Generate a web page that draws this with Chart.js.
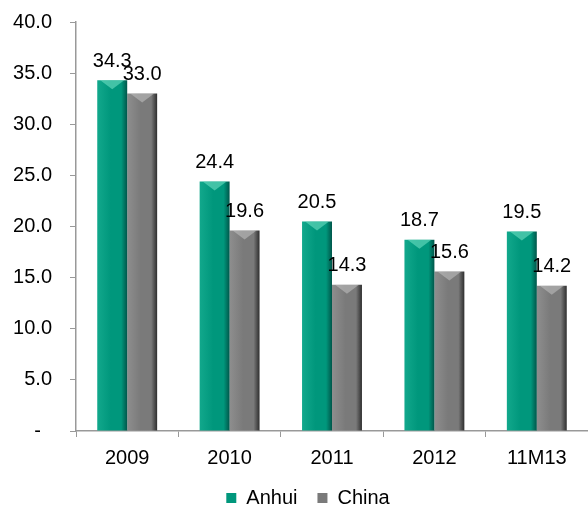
<!DOCTYPE html>
<html>
<head>
<meta charset="utf-8">
<script src="https://cdn.jsdelivr.net/npm/chart.js@4"></script>
<style>
    html, body { margin: 0; padding: 0; background: #fff; }
    #wrap { width: 588px; height: 513px; }
</style>
</head>
<body>
<div id="wrap"><canvas id="chart"></canvas></div>
<script>
// Chart values
const categories = ['2009', '2010', '2011', '2012', '11M13'];
const anhui = [34.3, 24.4, 20.5, 18.7, 19.5];
const china = [33.0, 19.6, 14.3, 15.6, 14.2];
const yTicks = [0, 5, 10, 15, 20, 25, 30, 35, 40];

const FONT = '"Liberation Sans", Arial, sans-serif';

// bar shading: [left light, middle, right dark, bevel]
const shades = [
    ['#12a88c', '#00977c', '#00564a', 'rgba(120,230,200,0.55)'],
    ['#8e8e8e', '#7a7a7a', '#2e2e2e', 'rgba(210,210,210,0.45)'],
];

// Horizontal gradient per bar, bevel on top and value labels
const barStyle = {
    id: 'barStyle',
    afterLayout(chart) {
        // nudge the legend to where it sits in the original
        const lg = chart.legend;
        lg.top -= 11;
        lg.left += 14;
        lg.right += 14;
    },
    beforeDatasetsDraw(chart) {
        const ctx = chart.ctx;
        chart.data.datasets.forEach((ds, i) => {
            const s = shades[i];
            chart.getDatasetMeta(i).data.forEach(bar => {
                const l = bar.x - bar.width / 2;
                const r = bar.x + bar.width / 2;
                const g = ctx.createLinearGradient(l, 0, r, 0);
                g.addColorStop(0, s[0]);
                g.addColorStop(0.45, s[1]);
                g.addColorStop(0.8, s[1]);
                g.addColorStop(1, s[2]);
                bar.options.backgroundColor = g;
            });
        });
    },
    afterDatasetsDraw(chart) {
        const ctx = chart.ctx;
        ctx.save();
        chart.data.datasets.forEach((ds, i) => {
            const s = shades[i];
            chart.getDatasetMeta(i).data.forEach((bar, j) => {
                const l = bar.x - bar.width / 2;
                const r = bar.x + bar.width / 2;
                ctx.fillStyle = s[3];
                ctx.beginPath();
                ctx.moveTo(l + 3, bar.y);
                ctx.lineTo(r - 3, bar.y);
                ctx.lineTo(bar.x, bar.y + 9);
                ctx.closePath();
                ctx.fill();

                ctx.fillStyle = '#000';
                ctx.font = '20px ' + FONT;
                ctx.textAlign = 'center';
                ctx.textBaseline = 'bottom';
                ctx.fillText(ds.data[j].toFixed(1), bar.x, bar.y - 9);
            });
        });
        ctx.restore();
    }
};

new Chart(document.getElementById('chart'), {
    type: 'bar',
    data: {
        labels: categories,
        datasets: [
            // scriptable colour so every bar gets its own options object
            {label: 'Anhui', data: anhui, backgroundColor: c => shades[0][1]},
            {label: 'China', data: china, backgroundColor: c => shades[1][1]},
        ]
    },
    options: {
        responsive: true,
        maintainAspectRatio: false,
        animation: false,
        datasets: {
            bar: {categoryPercentage: 0.585, barPercentage: 1.0}
        },
        layout: {padding: 0},
        scales: {
            x: {
                grid: {display: true, drawOnChartArea: false, drawTicks: true, tickLength: 6, color: '#999', offset: true},
                border: {color: '#999', width: 1.5},
                ticks: {color: '#000', font: {family: FONT, size: 20}, padding: 9}
            },
            y: {
                min: 0,
                max: 40,
                afterBuildTicks(axis) {
                    axis.ticks = yTicks.map(v => ({value: v}));
                },
                afterFit(axis) {
                    axis.width = 76;
                    axis.paddingTop = 22;
                },
                grid: {display: true, drawOnChartArea: false, drawTicks: true, tickLength: 6, color: '#999'},
                border: {color: '#999', width: 1.5},
                ticks: {
                    color: '#000',
                    font: {family: FONT, size: 20},
                    padding: 18,
                    callback: v => v === 0 ? '-  ' : v.toFixed(1)
                }
            }
        },
        plugins: {
            tooltip: {enabled: false},
            legend: {
                position: 'bottom',
                maxHeight: 34,
                labels: {
                    color: '#000',
                    font: {family: FONT, size: 20},
                    boxWidth: 10,
                    boxHeight: 10,
                    padding: 20,
                    generateLabels(chart) {
                        return chart.data.datasets.map((ds, i) => ({
                            text: ds.label,
                            fillStyle: shades[i][1],
                            strokeStyle: shades[i][1],
                            lineWidth: 0,
                            datasetIndex: i
                        }));
                    }
                }
            }
        }
    },
    plugins: [barStyle]
});
</script>
</body>
</html>
